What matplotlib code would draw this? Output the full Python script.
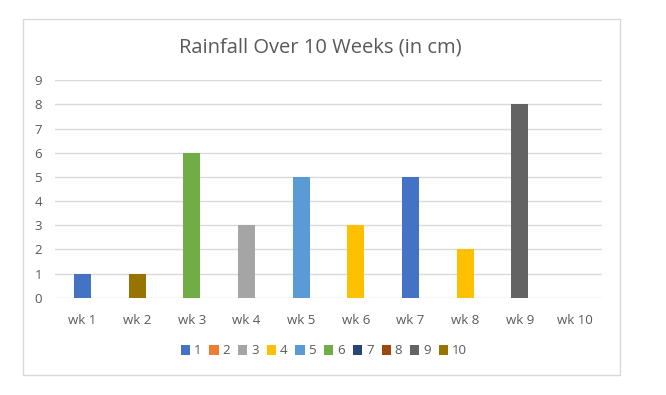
#!/usr/bin/env python3
import matplotlib
matplotlib.use('Agg')
import matplotlib.pyplot as plt
from matplotlib.patches import Rectangle, Patch

weeks = ['wk 1', 'wk 2', 'wk 3', 'wk 4', 'wk 5', 'wk 6', 'wk 7', 'wk 8', 'wk 9', 'wk 10']
rainfall = [1, 1, 6, 3, 5, 3, 5, 2, 8, 0]
# which legend series each bar belongs to
bar_series = [1, 10, 6, 3, 5, 4, 1, 4, 9, 2]
series_names = ['1', '2', '3', '4', '5', '6', '7', '8', '9', '10']
series_colors = ['#4472C4', '#ED7D31', '#A5A5A5', '#FFC000', '#5B9BD5',
                 '#70AD47', '#264478', '#9E480E', '#636363', '#997300']

plt.rcParams['font.family'] = ['Open Sans', 'DejaVu Sans']
text_col = '#595959'

W, H = 666, 395
fig = plt.figure(figsize=(W / 100, H / 100), dpi=100)

# chart border
fig.patches.append(Rectangle((23 / W, 1 - 375 / H), (620 - 23) / W, (375 - 19) / H,
                             transform=fig.transFigure, fill=False,
                             edgecolor='#D9D9D9', linewidth=1))

ax = fig.add_axes([55 / W, 1 - 297.7 / H, (602 - 55) / W, (297.7 - 80.3) / H])

x = range(len(weeks))
colors = [series_colors[s - 1] for s in bar_series]
ax.bar(x, rainfall, width=0.31, color=colors, zorder=3)

ax.set_xlim(-0.5, len(weeks) - 0.5)
ax.set_ylim(0, 9)
ax.set_yticks(range(0, 10))
ax.set_xticks(list(x))
ax.set_xticklabels(weeks)
ax.grid(axis='y', color='#D9D9D9', linewidth=1, zorder=0)
for s in ax.spines.values():
    s.set_visible(False)
ax.tick_params(axis='both', length=0, labelsize=9.5, labelcolor=text_col)
ax.tick_params(axis='x', pad=12)
ax.tick_params(axis='y', pad=12)
for lbl in ax.get_yticklabels():
    lbl.set_horizontalalignment('center')

fig.text(320 / W, 1 - 47 / H, 'Rainfall Over 10 Weeks (in cm)', ha='center', va='center',
         fontsize=14.5, color=text_col)

handles = [Patch(facecolor=c, edgecolor='none') for c in series_colors]
fig.legend(handles, series_names, loc='center', bbox_to_anchor=(324 / W, 1 - 351 / H),
           ncol=10, frameon=False, fontsize=9.5, labelcolor=text_col,
           handlelength=0.7, handleheight=0.7, handletextpad=0.3, columnspacing=0.6)

fig.savefig('out.png', dpi=100)
